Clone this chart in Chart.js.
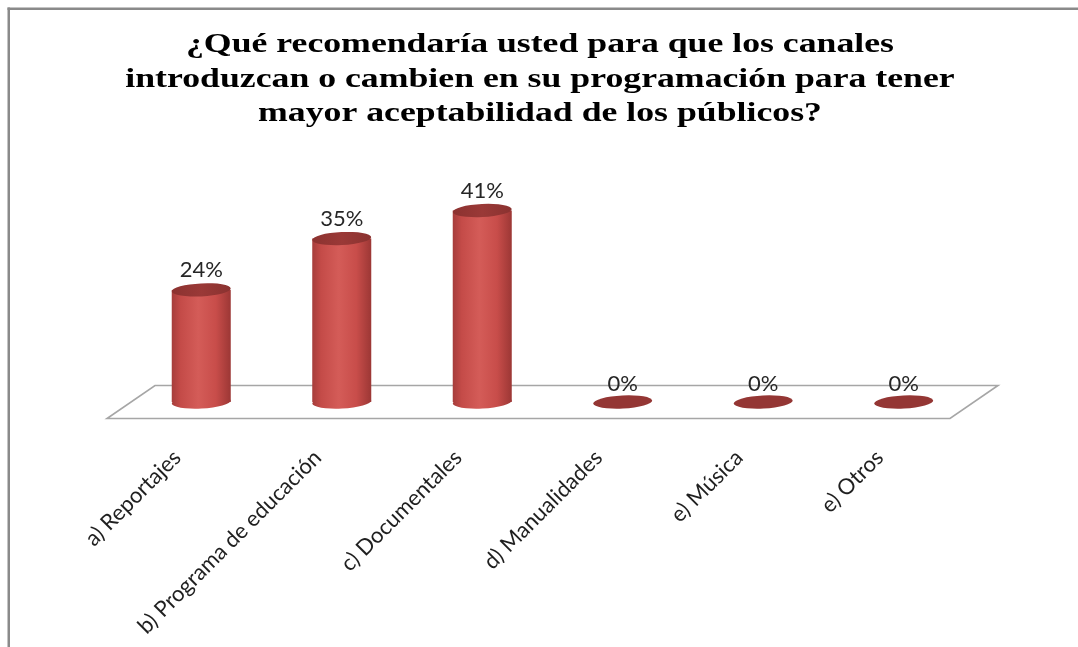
<!DOCTYPE html>
<html lang="es">
<head>
<meta charset="utf-8">
<title>Recomendaciones de programación</title>
<script src="https://cdn.jsdelivr.net/npm/chart.js@4.4.1/dist/chart.umd.min.js"></script>
<style>
    html, body { margin: 0; padding: 0; background: #fff; }
    #wrap { width: 1078px; height: 647px; }
</style>
</head>
<body>
<div id="wrap"><canvas id="chart" width="1078" height="647"></canvas></div>
<script>
// Datos de la encuesta
const categories = ["a) Reportajes", "b) Programa de educación", "c) Documentales", "d) Manualidades", "e) Música", "e) Otros"];
const percentages = [24, 35, 41, 0, 0, 0];
const titleLines = [
    "¿Qué recomendaría usted para que los canales",
    "introduzcan o cambien en su programación para tener",
    "mayor aceptabilidad de los públicos?"
];

const BAR_FRACTION = 0.42;   // ancho del cilindro respecto a la categoría
const ELLIPSE_RY = 6.5;      // alto de las tapas elípticas
const FLOOR_DX = 24;         // desplazamiento en profundidad del piso
const FLOOR_DY = 16.5;
const TITLE_WIDTH = 708;     // ancho de la primera línea del título

// Degradado horizontal del cuerpo de cada cilindro
function bodyGradient(ctx, cx, half) {
    const g = ctx.createLinearGradient(cx - half, 0, cx + half, 0);
    g.addColorStop(0, "#a63d3b");
    g.addColorStop(0.15, "#c44b48");
    g.addColorStop(0.45, "#d45c58");
    g.addColorStop(0.75, "#c84d4a");
    g.addColorStop(1, "#9c3735");
    return g;
}

function barHalfWidth(scale) {
    return scale.width / categories.length * BAR_FRACTION / 2;
}

function ellipse(ctx, x, y, rx, ry, fill) {
    ctx.beginPath();
    ctx.ellipse(x, y, rx, ry, -0.05, 0, Math.PI * 2);
    ctx.fillStyle = fill;
    ctx.fill();
}

// Marco y título
const framePlugin = {
    id: "frame",
    beforeDraw(chart) {
        const ctx = chart.ctx;
        ctx.save();
        ctx.fillStyle = "#fff";
        ctx.fillRect(0, 0, chart.width, chart.height);
        ctx.fillStyle = "#8a8a8a";
        ctx.fillRect(7.5, 7.5, chart.width, 2.5);
        ctx.fillRect(7.5, 7.5, 2.5, chart.height);

        ctx.fillStyle = "#000";
        ctx.font = "bold 28px 'Liberation Serif'";
        ctx.textAlign = "center";
        ctx.textBaseline = "alphabetic";
        // letra ancha: se estira en horizontal
        const stretch = TITLE_WIDTH / ctx.measureText(titleLines[0]).width;
        ctx.translate(540, 0);
        ctx.scale(stretch, 1);
        titleLines.forEach((line, i) => {
            ctx.fillText(line, 0, 52 + i * 34.5);
        });
        ctx.restore();
    }
};

// Piso en perspectiva y base de los cilindros
const floorPlugin = {
    id: "floor",
    beforeDatasetsDraw(chart) {
        const ctx = chart.ctx;
        const sx = chart.scales.x;
        const y0 = chart.scales.y.getPixelForValue(0);
        ctx.save();
        ctx.beginPath();
        ctx.moveTo(sx.left - FLOOR_DX, y0 + FLOOR_DY);
        ctx.lineTo(sx.right - FLOOR_DX, y0 + FLOOR_DY);
        ctx.lineTo(sx.right + FLOOR_DX, y0 - FLOOR_DY);
        ctx.lineTo(sx.left + FLOOR_DX, y0 - FLOOR_DY);
        ctx.closePath();
        ctx.fillStyle = "#fff";
        ctx.fill();
        ctx.strokeStyle = "#a6a6a6";
        ctx.lineWidth = 1.6;
        ctx.stroke();

        const half = barHalfWidth(sx);
        chart.getDatasetMeta(0).data.forEach((bar, i) => {
            if (percentages[i] > 0) {
                ellipse(ctx, bar.x, bar.base, half, ELLIPSE_RY, bodyGradient(ctx, bar.x, half));
            }
        });
        ctx.restore();
    }
};

// Tapas, etiquetas de valor y etiquetas de categoría
const capsPlugin = {
    id: "caps",
    afterDatasetsDraw(chart) {
        const ctx = chart.ctx;
        const sx = chart.scales.x;
        const half = barHalfWidth(sx);
        ctx.save();
        chart.getDatasetMeta(0).data.forEach((bar, i) => {
            const top = ctx.createLinearGradient(bar.x - half, 0, bar.x + half, 0);
            top.addColorStop(0, "#8c3230");
            top.addColorStop(0.5, "#9a3937");
            top.addColorStop(1, "#8a3230");
            ellipse(ctx, bar.x, bar.y, half, ELLIPSE_RY, percentages[i] > 0 ? top : "#943634");

            ctx.fillStyle = "#262626";
            ctx.font = "22px Lato";
            ctx.textAlign = "center";
            ctx.textBaseline = "middle";
            ctx.fillText(percentages[i] + "%", bar.x, bar.y - (percentages[i] > 0 ? 20 : 18));
        });

        ctx.fillStyle = "#1f1f1f";
        ctx.font = "22px Lato";
        ctx.textAlign = "right";
        ctx.textBaseline = "middle";
        categories.forEach((label, i) => {
            const x = sx.getPixelForValue(i) - 24;
            ctx.save();
            ctx.translate(x, 454);
            ctx.rotate(-Math.PI / 4);
            ctx.fillText(label, 0, 0);
            ctx.restore();
        });
        ctx.restore();
    }
};

new Chart(document.getElementById("chart"), {
    type: "bar",
    data: {
        labels: categories,
        datasets: [{
            data: percentages,
            backgroundColor: c => {
                const sx = c.chart.scales.x;
                const cx = sx ? sx.getPixelForValue(c.dataIndex) : NaN;
                const half = sx ? barHalfWidth(sx) : NaN;
                if (!isFinite(cx) || !isFinite(half) || half <= 0) return "#c94f4c";
                return bodyGradient(c.chart.ctx, cx, half);
            },
            borderWidth: 0,
            categoryPercentage: 1,
            barPercentage: BAR_FRACTION
        }]
    },
    options: {
        responsive: false,
        devicePixelRatio: 1,
        animation: false,
        layout: { padding: { left: 131, right: 104, top: 168.5, bottom: 245 } },
        scales: {
            x: { display: false },
            y: { display: false, min: 0, max: 50 }
        },
        plugins: {
            legend: { display: false },
            tooltip: { enabled: false }
        }
    },
    plugins: [framePlugin, floorPlugin, capsPlugin]
});
</script>
</body>
</html>
